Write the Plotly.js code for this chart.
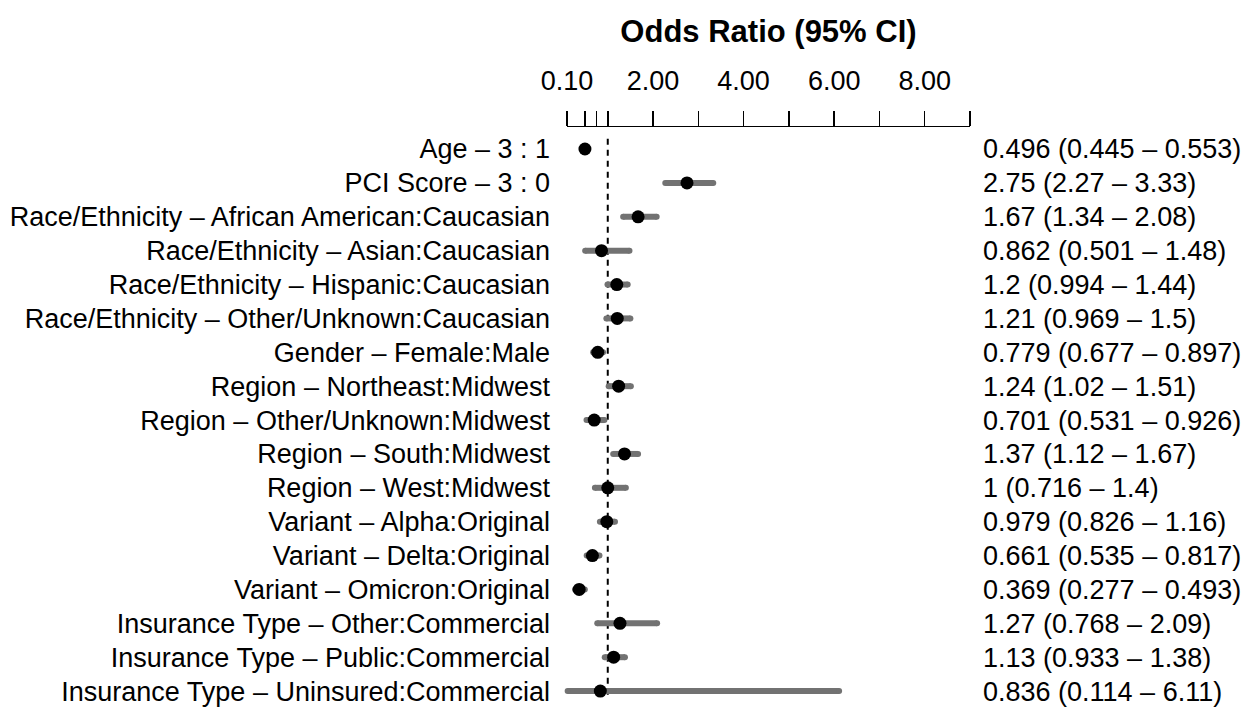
<!DOCTYPE html>
<html>
<head>
<meta charset="utf-8">
<script src="https://cdn.plot.ly/plotly-3.0.1.min.js"></script>
<style>html,body{margin:0;padding:0;background:#fff;}#chart{width:1244px;height:707px;}</style>
</head>
<body>
<div id="chart"></div>
<script>
const labels = [
  "Age – 3 : 1",
  "PCI Score – 3 : 0",
  "Race/Ethnicity – African American:Caucasian",
  "Race/Ethnicity – Asian:Caucasian",
  "Race/Ethnicity – Hispanic:Caucasian",
  "Race/Ethnicity – Other/Unknown:Caucasian",
  "Gender – Female:Male",
  "Region – Northeast:Midwest",
  "Region – Other/Unknown:Midwest",
  "Region – South:Midwest",
  "Region – West:Midwest",
  "Variant – Alpha:Original",
  "Variant – Delta:Original",
  "Variant – Omicron:Original",
  "Insurance Type – Other:Commercial",
  "Insurance Type – Public:Commercial",
  "Insurance Type – Uninsured:Commercial"
];
const oddsRatio = [0.496, 2.75, 1.67, 0.862, 1.2, 1.21, 0.779, 1.24, 0.701, 1.37, 1, 0.979, 0.661, 0.369, 1.27, 1.13, 0.836];
const ciLow     = [0.445, 2.27, 1.34, 0.501, 0.994, 0.969, 0.677, 1.02, 0.531, 1.12, 0.716, 0.826, 0.535, 0.277, 0.768, 0.933, 0.114];
const ciHigh    = [0.553, 3.33, 2.08, 1.48, 1.44, 1.5, 0.897, 1.51, 0.926, 1.67, 1.4, 1.16, 0.817, 0.493, 2.09, 1.38, 6.11];
const xTickVals = [0.1, 0.5, 0.75, 1, 2, 3, 4, 5, 6, 7, 8, 9];
const xTickText = ["0.10", "", "", "", "2.00", "", "4.00", "", "6.00", "", "8.00", ""];

const fmt = v => String(parseFloat(v.toPrecision(3)));
const rowIdx = labels.map((_, i) => i);
const rightText = oddsRatio.map((v, i) => `${fmt(v)} (${fmt(ciLow[i])} – ${fmt(ciHigh[i])})`);

const ciX = [], ciY = [];
rowIdx.forEach(i => { ciX.push(ciLow[i], ciHigh[i], null); ciY.push(i, i, null); });

const FONT = '"Liberation Sans", Arial, Helvetica, sans-serif';
const GRAY = '#727272';

const traces = [
  { x: ciX, y: ciY, type: 'scatter', mode: 'lines+markers',
    line: { color: GRAY, width: 6 }, marker: { color: GRAY, size: 6 },
    hoverinfo: 'skip', cliponaxis: false, showlegend: false },
  { x: oddsRatio, y: rowIdx, type: 'scatter', mode: 'markers',
    marker: { color: '#000', size: 13 }, cliponaxis: false, showlegend: false },
  { x: oddsRatio, y: rowIdx, yaxis: 'y2', type: 'scatter', mode: 'markers',
    marker: { color: 'rgba(0,0,0,0)', size: 1 }, hoverinfo: 'skip', showlegend: false }
];

const yRange = [16.47, -0.65];
const layout = {
  width: 1244, height: 707,
  margin: { l: 567, r: 274, t: 127, b: 0, pad: 0 },
  paper_bgcolor: '#fff', plot_bgcolor: '#fff',
  font: { family: FONT, size: 27, color: '#000' },
  title: { text: '<b>Odds Ratio (95% CI)</b>', font: { family: FONT, size: 31, color: '#000' },
           xref: 'paper', x: 0.5, xanchor: 'center', yref: 'container', y: 1 - 31 / 707, yanchor: 'middle' },
  xaxis: { side: 'top', range: [0.0999, 9.0001], tickmode: 'array', tickvals: xTickVals, ticktext: xTickText,
           ticks: 'outside', ticklen: 15, tickwidth: 1.5, tickcolor: '#000',
           showline: true, linewidth: 1.5, linecolor: '#000', mirror: false,
           showgrid: false, zeroline: false, ticklabelstandoff: 10,
           tickfont: { family: FONT, size: 27, color: '#000' }, fixedrange: true },
  yaxis: { range: yRange, tickmode: 'array', tickvals: rowIdx, ticktext: labels,
           showgrid: false, zeroline: false, showline: false, ticks: '', ticklabelstandoff: 16,
           tickfont: { family: FONT, size: 27, color: '#000' }, fixedrange: true },
  yaxis2: { overlaying: 'y', side: 'right', range: yRange, tickmode: 'array', tickvals: rowIdx, ticktext: rightText,
            showgrid: false, zeroline: false, showline: false, ticks: '', ticklabelstandoff: 12,
            tickfont: { family: FONT, size: 27, color: '#000' }, fixedrange: true },
  shapes: [{ type: 'line', xref: 'x', yref: 'y', x0: 1, x1: 1, y0: -0.3, y1: 16.25,
             line: { color: '#000', width: 2, dash: '6px,5px' }, layer: 'below' }]
};

Plotly.newPlot('chart', traces, layout, { displayModeBar: false, staticPlot: true });
</script>
</body>
</html>
